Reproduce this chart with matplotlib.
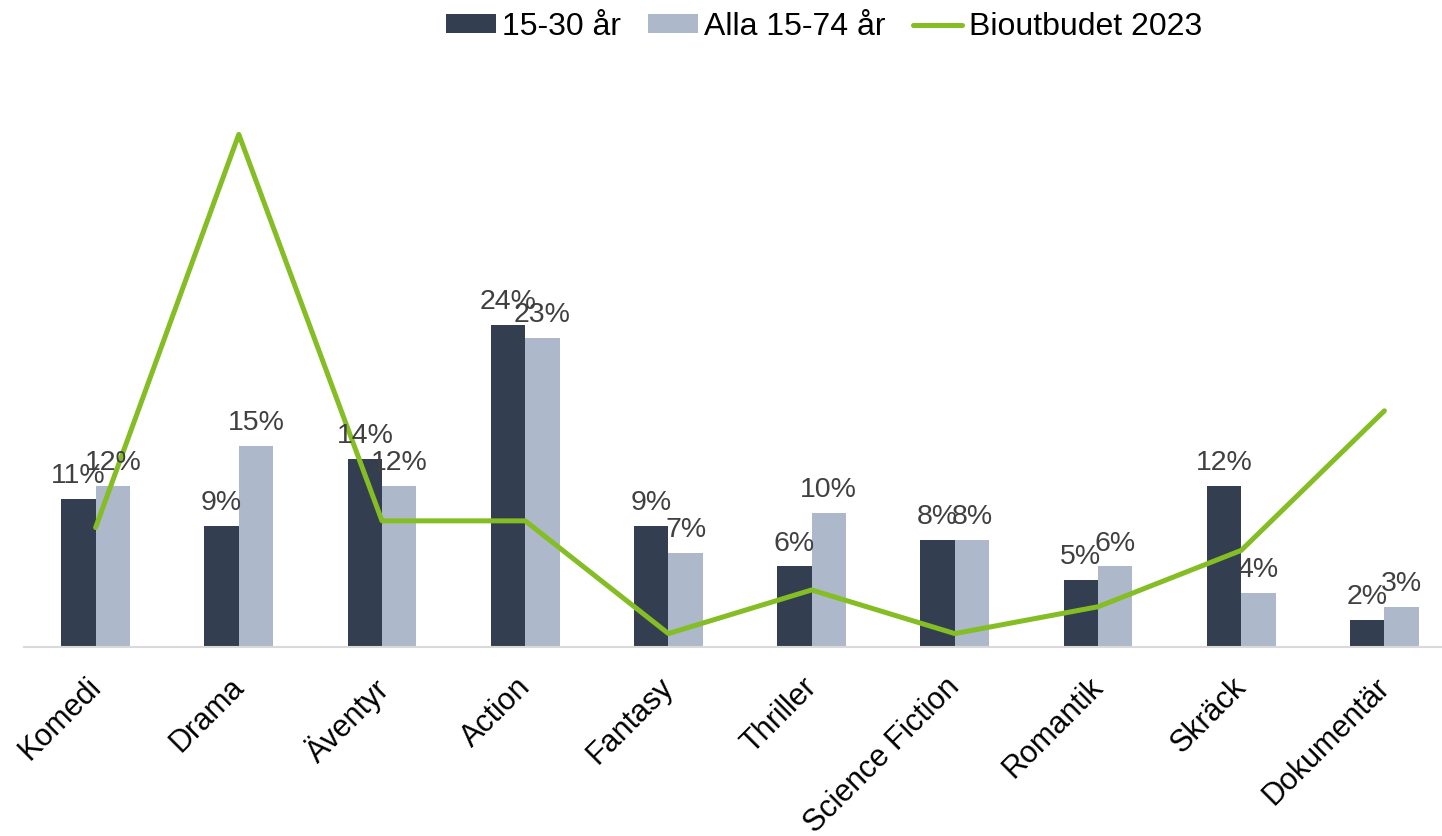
import matplotlib
matplotlib.use("Agg")
import matplotlib.pyplot as plt
import matplotlib.transforms as mtransforms
import numpy as np

categories = ["Komedi", "Drama", "Äventyr", "Action", "Fantasy", "Thriller",
              "Science Fiction", "Romantik", "Skräck", "Dokumentär"]
young = [11, 9, 14, 24, 9, 6, 8, 5, 12, 2]
all_ages = [12, 15, 12, 23, 7, 10, 8, 6, 4, 3]
supply = [8.9, 38.2, 9.4, 9.4, 1.0, 4.25, 1.0, 3.0, 7.2, 17.6]

labels_young = ["11%", "9%", "14%", "24%", "9%", "6%", "8%", "5%", "12%", "2%"]
labels_all = ["12%", "15%", "12%", "23%", "7%", "10%", "8%", "6%", "4%", "3%"]

series_names = ["15-30 år", "Alla 15-74 år", "Bioutbudet 2023"]

DARK = "#333F50"
LIGHT = "#ADB9CA"
GREEN = "#84BD24"
LABEL = "#404040"

plt.rcParams["font.family"] = ["Liberation Sans", "DejaVu Sans"]

W, H = 1442, 836
fig = plt.figure(figsize=(W / 100, H / 100), dpi=100)
axis_y = 647
top_y = 100
ax = fig.add_axes([24 / W, (H - axis_y) / H, (W - 24) / W, (axis_y - top_y) / H])

x = np.arange(len(categories))
bw = 0.24
b1 = ax.bar(x - bw / 2, young, bw, color=DARK, label=series_names[0], zorder=2)
b2 = ax.bar(x + bw / 2, all_ages, bw, color=LIGHT, label=series_names[1], zorder=2)
ln, = ax.plot(x, supply, color=GREEN, lw=3.6, solid_capstyle="round",
              solid_joinstyle="round", label=series_names[2], zorder=3)

px_per_pct = 13.42
ax.set_ylim(0, (axis_y - top_y) / px_per_pct)
spacing = 143.2
ax.set_xlim(-0.5, -0.5 + (W - 24) / spacing)

for xi, v, t in zip(x - bw / 2, young, labels_young):
    ax.annotate(t, (xi, v), xytext=(0, 11.5), textcoords="offset points",
                ha="center", va="baseline", fontsize=20.5, color=LABEL, zorder=4)
for xi, v, t in zip(x + bw / 2, all_ages, labels_all):
    ax.annotate(t, (xi, v), xytext=(0, 11.5), textcoords="offset points",
                ha="center", va="baseline", fontsize=20.5, color=LABEL, zorder=4)

for s in ["top", "right", "left"]:
    ax.spines[s].set_visible(False)
ax.spines["bottom"].set_color("#D9D9D9")
ax.spines["bottom"].set_linewidth(1.5)
ax.set_yticks([])
ax.set_xticks(x)
ax.set_xticklabels(categories, rotation=45, ha="right", rotation_mode="anchor",
                   fontsize=22, color="black")
ax.tick_params(axis="x", length=0, pad=18)
offset = mtransforms.ScaledTranslation(-10 / 100, 0, fig.dpi_scale_trans)
for lab in ax.get_xticklabels():
    lab.set_transform(lab.get_transform() + offset)

fig.legend(handles=[b1, b2, ln], labels=series_names, loc="center",
           bbox_to_anchor=(824 / W, 1 - 27 / H), ncol=3, frameon=False,
           fontsize=23, handlelength=1.55, handleheight=0.55, handletextpad=0.2,
           columnspacing=0.85)

fig.savefig("out.png", dpi=100)
